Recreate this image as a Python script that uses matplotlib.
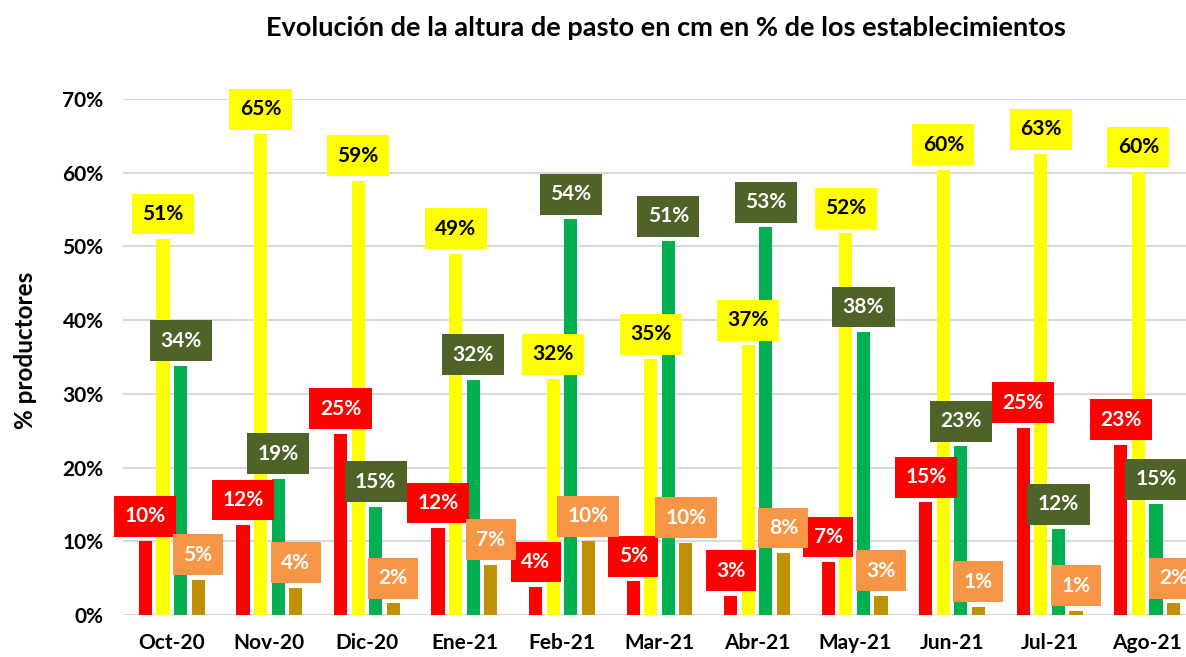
import matplotlib
matplotlib.use("Agg")
import matplotlib.pyplot as plt
import numpy as np

plt.rcParams['font.family'] = ['Lato', 'DejaVu Sans']

meses = ['Oct-20', 'Nov-20', 'Dic-20', 'Ene-21', 'Feb-21', 'Mar-21',
         'Abr-21', 'May-21', 'Jun-21', 'Jul-21', 'Ago-21']

rojo = [10.0, 12.2, 24.6, 11.8, 3.8, 4.6, 2.6, 7.2, 15.3, 25.4, 23.1]
amarillo = [51.0, 65.2, 58.9, 49.0, 32.0, 34.7, 36.6, 51.8, 60.4, 62.5, 60.1]
verde = [33.8, 18.5, 14.7, 31.9, 53.7, 50.7, 52.6, 38.4, 22.9, 11.6, 15.0]
dorado = [4.8, 3.7, 1.6, 6.8, 10.0, 9.8, 8.4, 2.6, 1.1, 0.6, 1.6]

series = [
    (rojo, '#FF0000', '#FF0000', 'white'),
    (amarillo, '#FFFF00', '#FFFF00', 'black'),
    (verde, '#00B050', '#4F6228', 'white'),
    (dorado, '#BF9000', '#F79646', 'white'),
]
desplaz = [-0.27, -0.09, 0.09, 0.27]

fig = plt.figure(figsize=(11.86, 6.57), dpi=100)
ax = fig.add_axes([123 / 1186, 1 - 615 / 657, (1196 - 123) / 1186, (615 - 99) / 657])

x = np.arange(len(meses))
for (vals, color, caja, txt), d in zip(series, desplaz):
    ax.bar(x + d, vals, width=0.135, color=color, zorder=3)
    for xi, v in zip(x + d, vals):
        ax.annotate(f"{int(v + 0.5)}%", (xi, v), xytext=(0, 18),
                    textcoords='offset points', ha='center', va='center',
                    fontsize=15, fontweight='bold', color=txt, zorder=5,
                    annotation_clip=False,
                    bbox=dict(boxstyle='square,pad=0.5', fc=caja, ec='none'))

ax.set_xlim(-0.5, len(meses) - 0.5)
ax.set_ylim(0, 70)
ax.set_yticks(range(0, 71, 10))
ax.set_yticklabels([f"{t}%" for t in range(0, 71, 10)])
ax.set_xticks(x)
ax.set_xticklabels(meses)
ax.tick_params(axis='both', length=0, labelsize=15)
ax.tick_params(axis='x', pad=13)
ax.tick_params(axis='y', pad=14)
for lab in ax.get_xticklabels() + ax.get_yticklabels():
    lab.set_fontweight('bold')
ax.grid(axis='y', color='#D9D9D9', linewidth=1.5, zorder=0)
for s in ax.spines.values():
    s.set_visible(False)

fig.text(26 / 1186, 1 - 350 / 657, '% productores', rotation=90, ha='center',
         va='center', fontsize=17.5, fontweight='bold')
fig.text(666 / 1186, 1 - 28 / 657,
         'Evolución de la altura de pasto en cm en % de los establecimientos',
         ha='center', va='center', fontsize=19.5, fontweight='bold')

fig.savefig('out.png', dpi=100)
